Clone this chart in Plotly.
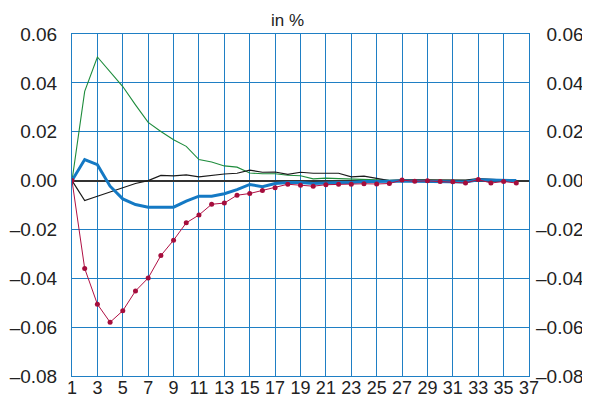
import plotly.graph_objects as go

x = list(range(1, 37))

red = [0, -0.036, -0.0506, -0.058, -0.0533, -0.0452, -0.0399, -0.0307, -0.0244, -0.0173,
       -0.0141, -0.0097, -0.0092, -0.006, -0.0053, -0.0041, -0.0029, -0.0015, -0.0019, -0.0023,
       -0.0017, -0.0015, -0.0015, -0.0013, -0.0014, -0.0012, 0.0002, -0.0003, -0.0001, -0.0004,
       -0.0005, -0.001, 0.0004, -0.001, -0.0004, -0.001]

green = [0, 0.0365, 0.0506, 0.0446, 0.0385, 0.031, 0.0238, 0.0201, 0.0167, 0.014,
         0.0086, 0.0076, 0.006, 0.0055, 0.0031, 0.0028, 0.0028, 0.0022, 0.002, 0.0007,
         0.001, 0.0008, 0.0007, 0.0006, 0.0003, 0.0001, 0.0002, 0.0001, 0.0002, 0.0001,
         0.0001, 0, 0.0002, 0.0001, 0, 0]

blue = [0, 0.0086, 0.0065, -0.0023, -0.0075, -0.0098, -0.0109, -0.0108, -0.0109, -0.0084,
        -0.0064, -0.0064, -0.0054, -0.0037, -0.0016, -0.0025, -0.0012, -0.0008, -0.0008, -0.0012,
        -0.0009, -0.0008, -0.0008, -0.0004, -0.0004, -0.0002, -0.0002, -0.0003, -0.0004, -0.0006,
        -0.0007, -0.0006, 0.0003, 0.0003, 0.0002, 0]

black = [0, -0.0082, -0.0064, -0.0046, -0.003, -0.0012, 0, 0.0021, 0.0019, 0.0023,
         0.0015, 0.0022, 0.0027, 0.003, 0.0043, 0.0034, 0.0035, 0.0025, 0.0034, 0.003,
         0.003, 0.003, 0.0015, 0.0018, 0.0009, 0, 0.0003, 0.0003, 0.0003, 0.0002,
         0.0004, 0.0002, 0.0008, 0.0006, 0.0004, 0]

y_ticks = [-0.08, -0.06, -0.04, -0.02, 0.0, 0.02, 0.04, 0.06]
y_labels = ["\u20130.08", "\u20130.06", "\u20130.04", "\u20130.02", "0.00", "0.02", "0.04", "0.06"]
# right-hand labels padded so they line up on the right like the reference
y_labels_right = [s if s.startswith("\u2013") else "\u00a0\u00a0" + s for s in y_labels]
x_ticks = list(range(1, 38, 2))
x_labels = [str(v) for v in x_ticks]

GRID = "#1f7fc4"
FONT = "Liberation Sans, Arial, sans-serif"

fig = go.Figure()
fig.add_trace(go.Scatter(x=x, y=green, mode="lines", line=dict(color="#1e8c3c", width=1.1)))
fig.add_trace(go.Scatter(x=x, y=black, mode="lines", line=dict(color="#1a1a1a", width=1.2)))
fig.add_trace(go.Scatter(x=x, y=blue, mode="lines", line=dict(color="#1479c4", width=3)))
fig.add_trace(go.Scatter(x=x, y=red, mode="lines+markers",
                         line=dict(color="#b01044", width=1),
                         marker=dict(color="#a50d3c", size=5)))
fig.add_trace(go.Scatter(x=[1], y=[0], yaxis="y2", mode="markers",
                         marker=dict(opacity=0), hoverinfo="skip"))

# the page body adds an 8px offset, so the figure is sized to fill the remaining window
fig.update_layout(
    width=582, height=391,
    margin=dict(l=64, r=61, t=26, b=23),
    paper_bgcolor="white", plot_bgcolor="white",
    showlegend=False,
    font=dict(family=FONT, size=19, color="#222"),
    xaxis=dict(range=[1, 37], tickvals=x_ticks, ticktext=x_labels,
               showgrid=True, gridcolor=GRID, gridwidth=1,
               showline=True, linecolor=GRID, linewidth=1, mirror=True,
               zeroline=False, ticks="", tickfont=dict(size=18), automargin=False,
               ticklabelstandoff=-5),
    yaxis=dict(range=[-0.08, 0.06], tickvals=y_ticks, ticktext=y_labels,
               showgrid=True, gridcolor=GRID, gridwidth=1,
               showline=True, linecolor=GRID, linewidth=1, mirror=True,
               zeroline=True, zerolinecolor="#333", zerolinewidth=2,
               ticks="", ticklabelstandoff=10, automargin=False),
    yaxis2=dict(range=[-0.08, 0.06], tickvals=y_ticks, ticktext=y_labels_right,
                overlaying="y", side="right", showgrid=False, zeroline=False,
                showline=False, ticks="", ticklabelstandoff=6, automargin=False),
    annotations=[dict(text="in %", xref="paper", yref="paper", x=0.4716, y=1,
                      yanchor="bottom", xanchor="center", yshift=2, showarrow=False,
                      font=dict(size=17, family=FONT, color="#222"))],
)

fig.write_html("out.html")
